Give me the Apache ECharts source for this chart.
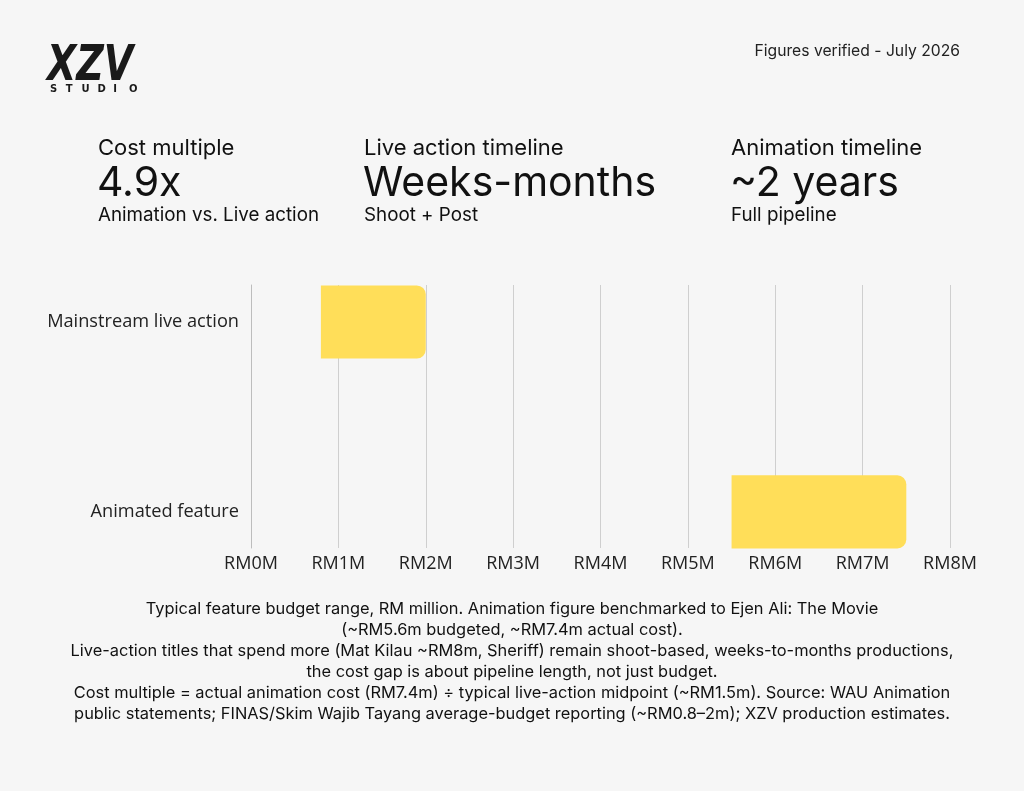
<!DOCTYPE html>
<html>
<head>
<meta charset="utf-8">
<script src="https://cdn.jsdelivr.net/npm/echarts@6/dist/echarts.min.js"></script>
<style>
  html, body { margin: 0; padding: 0; background: #f6f6f6; }
  #main { width: 1024px; height: 791px; }
</style>
</head>
<body>
<div id="main"></div>
<script>
// data
var categories = ['Mainstream live action', 'Animated feature'];
var rangeStart = [0.8, 5.5];
var rangeEnd = [2.0, 7.5];
var xTicks = [0, 1, 2, 3, 4, 5, 6, 7, 8];

var footnote = [
    'Typical feature budget range, RM million. Animation figure benchmarked to Ejen Ali: The Movie',
    '(~RM5.6m budgeted, ~RM7.4m actual cost).',
    'Live-action titles that spend more (Mat Kilau ~RM8m, Sheriff) remain shoot-based, weeks-to-months productions,',
    'the cost gap is about pipeline length, not just budget.',
    'Cost multiple = actual animation cost (RM7.4m) \u00f7 typical live-action midpoint (~RM1.5m). Source: WAU Animation',
    'public statements; FINAS/Skim Wajib Tayang average-budget reporting (~RM0.8\u20132m); XZV production estimates.'
];

var headFont = 'Inter, "Open Sans", sans-serif';
var axisFont = '"Open Sans", "Noto Sans", sans-serif';

(function () {
    var chart = echarts.init(document.getElementById('main'));

    var barData = categories.map(function (name, i) {
        return [rangeStart[i], rangeEnd[i], i];
    });

    // header blocks: label / big figure / caption
    var blocks = [
        { x: 98, a: 'Cost multiple', b: '4.9x', c: 'Animation vs. Live action' },
        { x: 364, a: 'Live action timeline', b: 'Weeks-months', c: 'Shoot + Post' },
        { x: 731, a: 'Animation timeline', b: '~2 years', c: 'Full pipeline' }
    ];
    var graphics = [];
    blocks.forEach(function (bk) {
        graphics.push({ type: 'text', x: bk.x, y: 148, style: { text: bk.a, font: '400 22px ' + headFont, fill: '#111', verticalAlign: 'middle' } });
        graphics.push({ type: 'text', x: bk.x - 1, y: 184, style: { text: bk.b, font: '400 41px ' + headFont, fill: '#111', verticalAlign: 'middle' } });
        graphics.push({ type: 'text', x: bk.x, y: 215, style: { text: bk.c, font: '400 18.8px ' + headFont, fill: '#111', verticalAlign: 'middle' } });
    });

    // logo
    graphics.push({ type: 'text', x: 47, y: 42, scaleY: 1.3, style: { text: 'XZV', font: 'italic 900 38px "DejaVu Sans", sans-serif', fill: '#1a1a1a' } });
    'STUDIO'.split('').forEach(function (ch, i) {
        graphics.push({ type: 'text', x: 50 + i * 15.8, y: 84, style: { text: ch, font: '700 10px "DejaVu Sans", sans-serif', fill: '#1a1a1a' } });
    });

    graphics.push({ type: 'text', x: 960, y: 51, style: { text: 'Figures verified - July 2026', font: '400 15.7px ' + headFont, fill: '#222', align: 'right', verticalAlign: 'middle' } });

    graphics.push({
        type: 'text', x: 512, y: 599,
        style: {
            text: footnote.join('\n'), font: '400 16.4px ' + headFont, fill: '#111',
            align: 'center', verticalAlign: 'top', lineHeight: 21
        }
    });

    var option = {
        backgroundColor: '#f6f6f6',
        animation: false,
        grid: { left: 251, right: 74, top: 285, bottom: 243 },
        xAxis: {
            type: 'value',
            min: 0,
            max: 8,
            interval: 1,
            axisLine: { show: false },
            axisTick: { show: false },
            axisLabel: {
                formatter: function (v) { return 'RM' + v + 'M'; },
                customValues: xTicks,
                margin: 7,
                fontSize: 18,
                fontFamily: axisFont,
                color: '#222'
            },
            splitLine: { show: true, lineStyle: { color: '#cfcfcf', width: 1 } }
        },
        yAxis: {
            type: 'value',
            inverse: true,
            min: -0.195,
            max: 1.19,
            axisLine: { show: true, lineStyle: { color: '#bdbdbd' } },
            axisTick: { show: false },
            splitLine: { show: false },
            axisLabel: {
                customValues: [0, 1],
                margin: 12,
                fontSize: 18.2,
                fontFamily: axisFont,
                color: '#222',
                formatter: function (v) { return categories[Math.round(v)] || ''; }
            }
        },
        series: [{
            type: 'custom',
            data: barData,
            encode: { x: [0, 1], y: 2 },
            renderItem: function (params, api) {
                var p0 = api.coord([api.value(0), api.value(2)]);
                var p1 = api.coord([api.value(1), api.value(2)]);
                var h = api.size([0, 0.385])[1];
                return {
                    type: 'rect',
                    shape: { x: p0[0], y: p0[1] - h / 2, width: p1[0] - p0[0], height: h, r: [0, 9, 9, 0] },
                    style: { fill: '#ffde59' }
                };
            }
        }],
        graphic: graphics
    };
    chart.setOption(option);
})();
</script>
</body>
</html>
